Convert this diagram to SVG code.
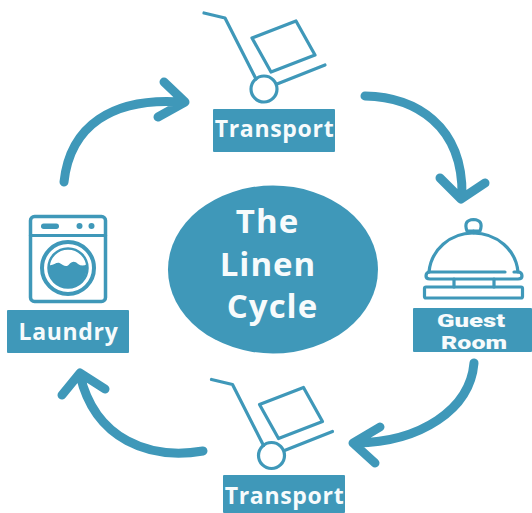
<svg xmlns="http://www.w3.org/2000/svg" width="532" height="513" viewBox="0 0 532 513">
<style>
.fill{fill:#3f98b9}
.ln{fill:none;stroke:#3f98b9;stroke-width:3.2;stroke-linecap:round;stroke-linejoin:round}
.arrow{fill:none;stroke:#3f98b9;stroke-width:9;stroke-linecap:round;stroke-linejoin:round}
.lb{fill:#f7fbfc;font-family:"Open Sans","DejaVu Sans",sans-serif;font-weight:700;text-anchor:middle}
.sm{font-size:23px;letter-spacing:.7px}
.gr{font-family:Roboto,"Open Sans",sans-serif;font-size:18.500px;font-weight:900}
.big{font-size:33px;letter-spacing:1px}
</style>
<rect width="532" height="513" fill="#fff"/>
<defs>
<g id="cart">
<path class="ln" d="M0 0L21 5L52 66"/>
<circle class="ln" cx="60" cy="76" r="13"/>
<path class="ln" d="M73 71L121 52"/>
<path class="ln" d="M48 25L92 8L111 42L67 59Z"/>
</g>
</defs>
<g id="connectors">
<path class="arrow" d="M64 182C70 126 112 97 182 102M164 82L185 102L158 117"/>
<path class="arrow" d="M365 96C415 97 463 125 462 195M440 178L461 199L485 183"/>
<path class="arrow" d="M474 363C470 410 420 442 356 443M380 427L353 443L375 463"/>
<path class="arrow" d="M203 451C150 460 95 440 80 375M62 395L80 373L105 389"/>
</g>
<g id="center">
<ellipse class="fill" cx="273" cy="269.500" rx="105" ry="84"/>
<text class="lb big" x="267.500" y="233">The</text>
<text class="lb big" x="268" y="276">Linen</text>
<text class="lb big" x="272.500" y="318">Cycle</text>
</g>
<g id="transport-top">
<use href="#cart" x="204" y="13"/>
<rect class="fill" x="213" y="109" width="122" height="43" rx="1"/>
<text class="lb sm" x="274.500" y="137">Transport</text>
</g>
<g id="guest-room">
<path class="ln" d="M467 231Q463 220 473.500 219.500Q484 220 480 231Z"/>
<path class="ln" d="M473.500 231V233"/>
<path class="ln" d="M429 272C431 250 450 233 473 233C497 233 516 250 518 272"/>
<path class="ln" d="M505 272H430Q426 272 426 276Q426 279 430 279H518Q522 279 522 276Q522 272 518 272H514"/>
<rect class="ln" x="424.500" y="287" width="98" height="11" rx="1.500"/>
<path class="ln" d="M454 279V287M494 279V287"/>
<rect class="fill" x="413" y="308" width="119" height="44" rx="1"/>
<text class="lb gr" x="471" y="326.500" textLength="68" lengthAdjust="spacingAndGlyphs">Guest</text>
<text class="lb gr" x="474" y="348.500" textLength="66" lengthAdjust="spacingAndGlyphs">Room</text>
</g>
<g id="transport-bottom">
<use href="#cart" x="211.500" y="379.500"/>
<rect class="fill" x="223" y="475" width="122" height="38" rx="1"/>
<text class="lb sm" x="284.500" y="503.500">Transport</text>
</g>
<g id="laundry">
<rect x="30.500" y="216.500" width="75" height="85" rx="4" fill="none" stroke="#3f98b9" stroke-width="3.500"/>
<path class="ln" d="M30.500 235.500H105.500"/>
<rect class="fill" x="41" y="223.500" width="18" height="5.500" rx="2.700"/>
<circle class="fill" cx="79.500" cy="226" r="3"/>
<circle class="fill" cx="91.500" cy="226" r="3"/>
<circle cx="68" cy="268" r="26" fill="none" stroke="#3f98b9" stroke-width="4"/>
<circle cx="68" cy="268" r="19.500" fill="none" stroke="#3f98b9" stroke-width="2.500"/>
<path class="fill" d="M49 265C53 266 56 262 59.500 263C63 265 66 268 69 264.500C72 261 75 261 78 264C81 266 84 266 87 264C88 277 79 287.500 68 287.500C57 287.500 48 278 49 265Z"/>
<rect class="fill" x="7" y="310" width="122" height="43" rx="1"/>
<text class="lb sm" x="68.500" y="340">Laundry</text>
</g>
</svg>
